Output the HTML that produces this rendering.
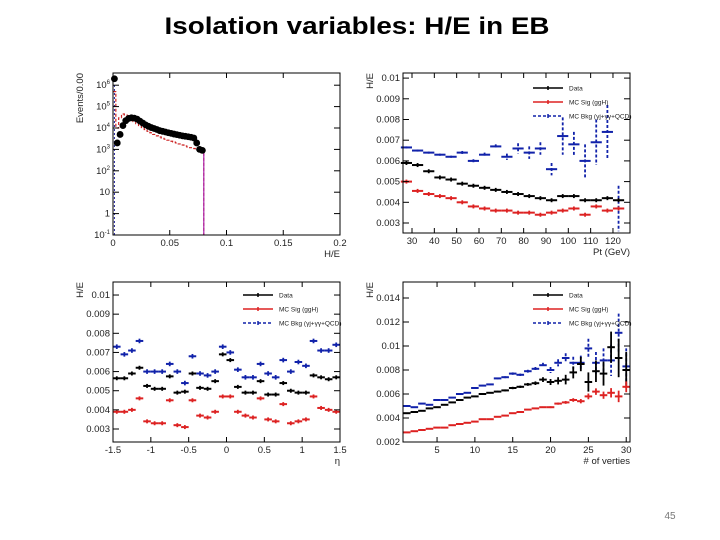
<!DOCTYPE html>
<html><head><meta charset="utf-8"><style>
body{margin:0;background:#fff;}
svg{display:block;font-family:"Liberation Sans",sans-serif;}
</style></head><body>
<svg id="s" width="720" height="540" viewBox="0 0 720 540">
<text x="357" y="34" text-anchor="middle" font-size="24" font-weight="bold" textLength="385" lengthAdjust="spacingAndGlyphs" fill="#000">Isolation variables:  H/E in EB</text>
<text x="670" y="519" text-anchor="middle" font-size="10" fill="#777">45</text>
</svg>
<script>
// Panel 1: H/E distribution (log scale)
const heBins = [0.00125,0.00375,0.00625,0.00875,0.01125,0.01375,0.01625,0.01875,0.02125,0.02375,0.02625,0.02875,0.03125,0.03375,0.03625,0.03875,0.04125,0.04375,0.04625,0.04875,0.05125,0.05375,0.05625,0.05875,0.06125,0.06375,0.06625,0.06875,0.07125,0.07375,0.07625,0.07875];
const heData = [2e6,2e3,5e3,1.3e4,2.2e4,2.8e4,3e4,2.9e4,2.6e4,2.1e4,1.7e4,1.4e4,1.2e4,1.05e4,9.5e3,8.5e3,7.5e3,7e3,6.5e3,6e3,5.6e3,5.2e3,4.9e3,4.6e3,4.3e3,4.1e3,3.9e3,3.7e3,3.4e3,2e3,1e3,9e2];
const heMC = [5e5,1e4,3e4,4.5e4,4e4,3e4,2.4e4,2e4,1.6e4,1.3e4,1.05e4,8.5e3,7e3,6e3,5e3,4.3e3,3.8e3,3.3e3,3e3,2.7e3,2.4e3,2.2e3,2e3,1.8e3,1.6e3,1.45e3,1.3e3,1.2e3,1.1e3,1e3,9e2,7e2];
const heTicksX = [0,0.05,0.1,0.15,0.2];
const heTicksY = [-1,0,1,2,3,4,5,6];
// Panel 2: vs Pt
const ptBins = [27.5,32.5,37.5,42.5,47.5,52.5,57.5,62.5,67.5,72.5,77.5,82.5,87.5,92.5,97.5,102.5,107.5,112.5,117.5,122.5];
const ptData = [0.0059,0.0058,0.0055,0.0052,0.0051,0.0049,0.0048,0.0047,0.0046,0.0045,0.0044,0.0043,0.0042,0.0041,0.0043,0.0043,0.0041,0.0041,0.0042,0.0041];
const ptSig = [0.0050,0.00455,0.0044,0.0043,0.0042,0.0040,0.0038,0.0037,0.0036,0.0036,0.0035,0.0035,0.0034,0.0035,0.0036,0.0037,0.0034,0.0038,0.0036,0.0037];
const ptBkg = [0.00665,0.0065,0.0064,0.0063,0.0062,0.0064,0.0060,0.0063,0.0067,0.0062,0.0066,0.0064,0.0066,0.0056,0.0072,0.0068,0.0060,0.0069,0.0074,0.0037];
const ptBkgErr = [0.00005,0.00005,0.00005,0.00005,0.00005,0.00008,0.00008,0.0001,0.0001,0.00015,0.00025,0.0003,0.0003,0.0003,0.0009,0.0006,0.0008,0.0011,0.0013,0.0011];
const ptTicksX = [30,40,50,60,70,80,90,100,110,120];
const ptTicksY = [0.003,0.004,0.005,0.006,0.007,0.008,0.009,0.01];
// Panel 3: vs eta
const etaBins = [-1.45,-1.35,-1.25,-1.15,-1.05,-0.95,-0.85,-0.75,-0.65,-0.55,-0.45,-0.35,-0.25,-0.15,-0.05,0.05,0.15,0.25,0.35,0.45,0.55,0.65,0.75,0.85,0.95,1.05,1.15,1.25,1.35,1.45];
const etaData = [0.00565,0.00565,0.0059,0.0062,0.00525,0.0051,0.0051,0.00575,0.0049,0.00495,0.0059,0.00515,0.0051,0.0055,0.0069,0.0066,0.0052,0.0049,0.0049,0.0055,0.0048,0.0048,0.0054,0.0050,0.0049,0.0049,0.0058,0.0057,0.0056,0.0057];
const etaSig = [0.0039,0.0039,0.0040,0.0046,0.0034,0.0033,0.0033,0.0045,0.0032,0.0031,0.0045,0.0037,0.0036,0.0039,0.0047,0.0047,0.0039,0.0037,0.0036,0.0046,0.0035,0.0034,0.0043,0.0033,0.0034,0.0035,0.0047,0.0041,0.0040,0.0039];
const etaBkg = [0.0073,0.0069,0.0071,0.0076,0.0060,0.0060,0.0060,0.0064,0.0060,0.0054,0.0068,0.0059,0.0058,0.0060,0.0073,0.0070,0.0061,0.0057,0.0057,0.0064,0.0059,0.0057,0.0066,0.0060,0.0065,0.0063,0.0076,0.0071,0.0071,0.0074];
const etaTicksX = [-1.5,-1,-0.5,0,0.5,1,1.5];
const etaTicksY = [0.003,0.004,0.005,0.006,0.007,0.008,0.009,0.01];
// Panel 4: vs number of vertices
const nvBins = [1,2,3,4,5,6,7,8,9,10,11,12,13,14,15,16,17,18,19,20,21,22,23,24,25,26,27,28,29,30];
const nvData = [0.0044,0.0045,0.0046,0.0048,0.0049,0.0051,0.0053,0.0055,0.0057,0.0058,0.0060,0.0061,0.0062,0.0063,0.0065,0.0066,0.0068,0.0069,0.0072,0.0070,0.0071,0.0072,0.0078,0.0085,0.0070,0.0079,0.0077,0.0099,0.0090,0.0080];
const nvDataErr = [0.00005,0.00005,0.00005,0.00005,0.00005,0.00005,0.00005,0.00005,0.00005,0.00005,0.00006,0.00006,0.00007,0.00008,0.0001,0.0001,0.00012,0.00015,0.0002,0.00025,0.0003,0.0004,0.0005,0.0006,0.0008,0.0009,0.001,0.0013,0.0016,0.0015];
const nvSig = [0.0028,0.0029,0.0030,0.0031,0.0032,0.0032,0.0034,0.0035,0.0036,0.0037,0.0039,0.0039,0.0041,0.0042,0.0044,0.0045,0.0047,0.0048,0.0049,0.0049,0.0052,0.0053,0.0055,0.0054,0.0058,0.0062,0.0059,0.0061,0.0058,0.0066];
const nvBkg = [0.0050,0.0049,0.0052,0.0051,0.0055,0.0055,0.0057,0.0060,0.0061,0.0065,0.0067,0.0068,0.0073,0.0074,0.0077,0.0076,0.0079,0.0081,0.0084,0.0080,0.0086,0.0090,0.0086,0.0086,0.0098,0.0086,0.0088,0.0088,0.0111,0.0083];
const nvTicksX = [5,10,15,20,25,30];
const nvTicksY = [0.002,0.004,0.006,0.008,0.01,0.012,0.014];

const NS="http://www.w3.org/2000/svg";
const svg=document.getElementById('s');
function el(tag,attrs,parent){const e=document.createElementNS(NS,tag);for(const k in attrs)e.setAttribute(k,attrs[k]);(parent||svg).appendChild(e);return e;}
function fmt(v){return (Math.round(v*10000)/10000).toString();}

function frame(g,L,T,R,B,xs,ys,xt,yt,xlab,ylab,logY){
  const r=el('rect',{x:L,y:T,width:R-L,height:B-T,fill:'none',stroke:'#000','stroke-width':1},g);
  
  
  xt.forEach(v=>{const x=xs(v);
    el('line',{x1:x,x2:x,y1:B,y2:B-5,stroke:'#000'},g);el('line',{x1:x,x2:x,y1:T,y2:T+5,stroke:'#000'},g);
    const t=el('text',{x:x,y:B+11,'font-size':9.5,'text-anchor':'middle',fill:'#222'},g);t.textContent=fmt(v);
    
    
  });
  yt.forEach(v=>{const y=ys(logY?Math.pow(10,v):v);
    el('line',{x1:L,x2:L+6,y1:y,y2:y,stroke:'#000'},g);el('line',{x1:R,x2:R-6,y1:y,y2:y,stroke:'#000'},g);
    const t=el('text',{x:L-3,y:y+3,'font-size':9.5,'text-anchor':'end',fill:'#222'},g);
    if(logY){ if(v===0)t.textContent='1'; else if(v===1)t.textContent='10'; else {t.textContent='10';const s=el('tspan',{dy:-4,'font-size':6},t);s.textContent=v;} }
    else t.textContent=fmt(v);
    
    
  });
  const xl=el('text',{x:R,y:B+22,'font-size':9.5,'text-anchor':'end',fill:'#222'},g);xl.textContent=xlab;
  
  
  const yl=el('text',{x:0,y:0,'font-size':9.5,'text-anchor':'end',fill:'#222',transform:`translate(${L-30},${T}) rotate(-90)`},g);yl.textContent=ylab;
  
  
}
function series(g,bins,vals,xs,ys,hw,color,errs,dash,name){
  bins.forEach((b,i)=>{
    const v=vals[i];const x=xs(b),y=ys(v);
    const m=el('g',{},g);
    
    
    el('line',{x1:xs(b-hw),x2:xs(b+hw),y1:y,y2:y,stroke:color,'stroke-width':2},m);
    const e=errs?errs[i]:0;
    if(e>0){el('line',{x1:x,x2:x,y1:ys(v+e),y2:ys(v-e),stroke:color,'stroke-width':1.8,'stroke-dasharray':dash?'3,2':'none'},m);}
    else el('line',{x1:x,x2:x,y1:y-2,y2:y+2,stroke:color,'stroke-width':1.8},m);
  });
}
function legend(g,x,y,gap){
  const items=[['Data','#000',''],['MC Sig (ggH)','#d22',''],['MC Bkg (\u03b3j+\u03b3\u03b3+QCD)','#12a','3,2']];
  items.forEach((it,i)=>{const yy=y+i*gap;
    const lg=el('g',{},g);
    
    
    el('line',{x1:x,x2:x+30,y1:yy,y2:yy,stroke:it[1],'stroke-width':1.5,'stroke-dasharray':it[2]||'none'},lg);
    el('line',{x1:x+15,x2:x+15,y1:yy-2,y2:yy+2,stroke:it[1],'stroke-width':1.5},lg);
    const t=el('text',{x:x+36,y:yy+2.5,'font-size':6.5,fill:'#222'},lg);t.textContent=it[0];
  });
}

// Panel 1
(function(){
  const g=el('g',{});
  const L=113,R=340,T=73,B=235;
  const xs=v=>L+(v-0)/(0.2)*(R-L);
  const ys=v=>B-(Math.log10(v)+1)*21.4;
  let d='';heBins.forEach((b,i)=>{const y=ys(heMC[i]);d+=(i?'L':'M')+xs(b-0.00125)+','+y+'L'+xs(b+0.00125)+','+y;});
  d+='L'+xs(0.08)+','+B;
  const p=el('path',{d:d,fill:'none',stroke:'#c22','stroke-width':1.2,'stroke-dasharray':'3,2'},g);
  
  
  const bl=el('line',{x1:xs(0.00125),x2:xs(0.00125),y1:B,y2:ys(1e6),stroke:'#229','stroke-width':1,'stroke-dasharray':'2,2'},g);
  
  
  el('line',{x1:xs(0.08),x2:xs(0.08),y1:ys(7e2),y2:B,stroke:'#a2a','stroke-width':1.2},g);
  heBins.forEach((b,i)=>{const c=el('circle',{cx:xs(b),cy:ys(heData[i]),r:3.4,fill:'#000'},g);
    
    });
  frame(g,L,T,R,B,xs,ys,heTicksX,heTicksY,'H/E','Events/0.00',true);
})();
// Panel 2
(function(){
  const g=el('g',{});
  const L=403,R=630,T=73,B=233;
  const xs=v=>412+(v-30)*2.233;
  const ys=v=>223-(v-0.003)*20700;
  series(g,ptBins,ptBkg,xs,ys,2.5,'#12a',ptBkgErr,true,'bkg');
  series(g,ptBins,ptData,xs,ys,2.5,'#000',null,false,'data');
  series(g,ptBins,ptSig,xs,ys,2.5,'#d22',null,false,'sig');
  frame(g,L,T,R,B,xs,ys,ptTicksX,ptTicksY,'Pt (GeV)','H/E',false);
  legend(g,533,88,14);
})();
// Panel 3
(function(){
  const g=el('g',{});
  const L=113,R=340,T=282,B=442;
  const xs=v=>L+(v+1.5)/3*(R-L);
  const ys=v=>429-(v-0.003)*19140;
  series(g,etaBins,etaBkg,xs,ys,0.05,'#12a',etaBkg.map(()=>0.00012),false,'bkg');
  series(g,etaBins,etaData,xs,ys,0.05,'#000',null,false,'data');
  series(g,etaBins,etaSig,xs,ys,0.05,'#d22',null,false,'sig');
  frame(g,L,T,R,B,xs,ys,etaTicksX,etaTicksY,'\u03b7','H/E',false);
  legend(g,243,295,14);
})();
// Panel 4
(function(){
  const g=el('g',{});
  const L=403,R=630,T=282,B=442;
  const xs=v=>L+(v-0.5)/30*(R-L);
  const ys=v=>B-(v-0.002)*12000;
  series(g,nvBins,nvBkg,xs,ys,0.5,'#12a',nvDataErr,true,'bkg');
  series(g,nvBins,nvData,xs,ys,0.5,'#000',nvDataErr,false,'data');
  series(g,nvBins,nvSig,xs,ys,0.5,'#d22',nvDataErr.map(e=>e*0.3),false,'sig');
  frame(g,L,T,R,B,xs,ys,nvTicksX,nvTicksY,'# of verties','H/E',false);
  legend(g,533,295,14);
})();
</script>
</body></html>
